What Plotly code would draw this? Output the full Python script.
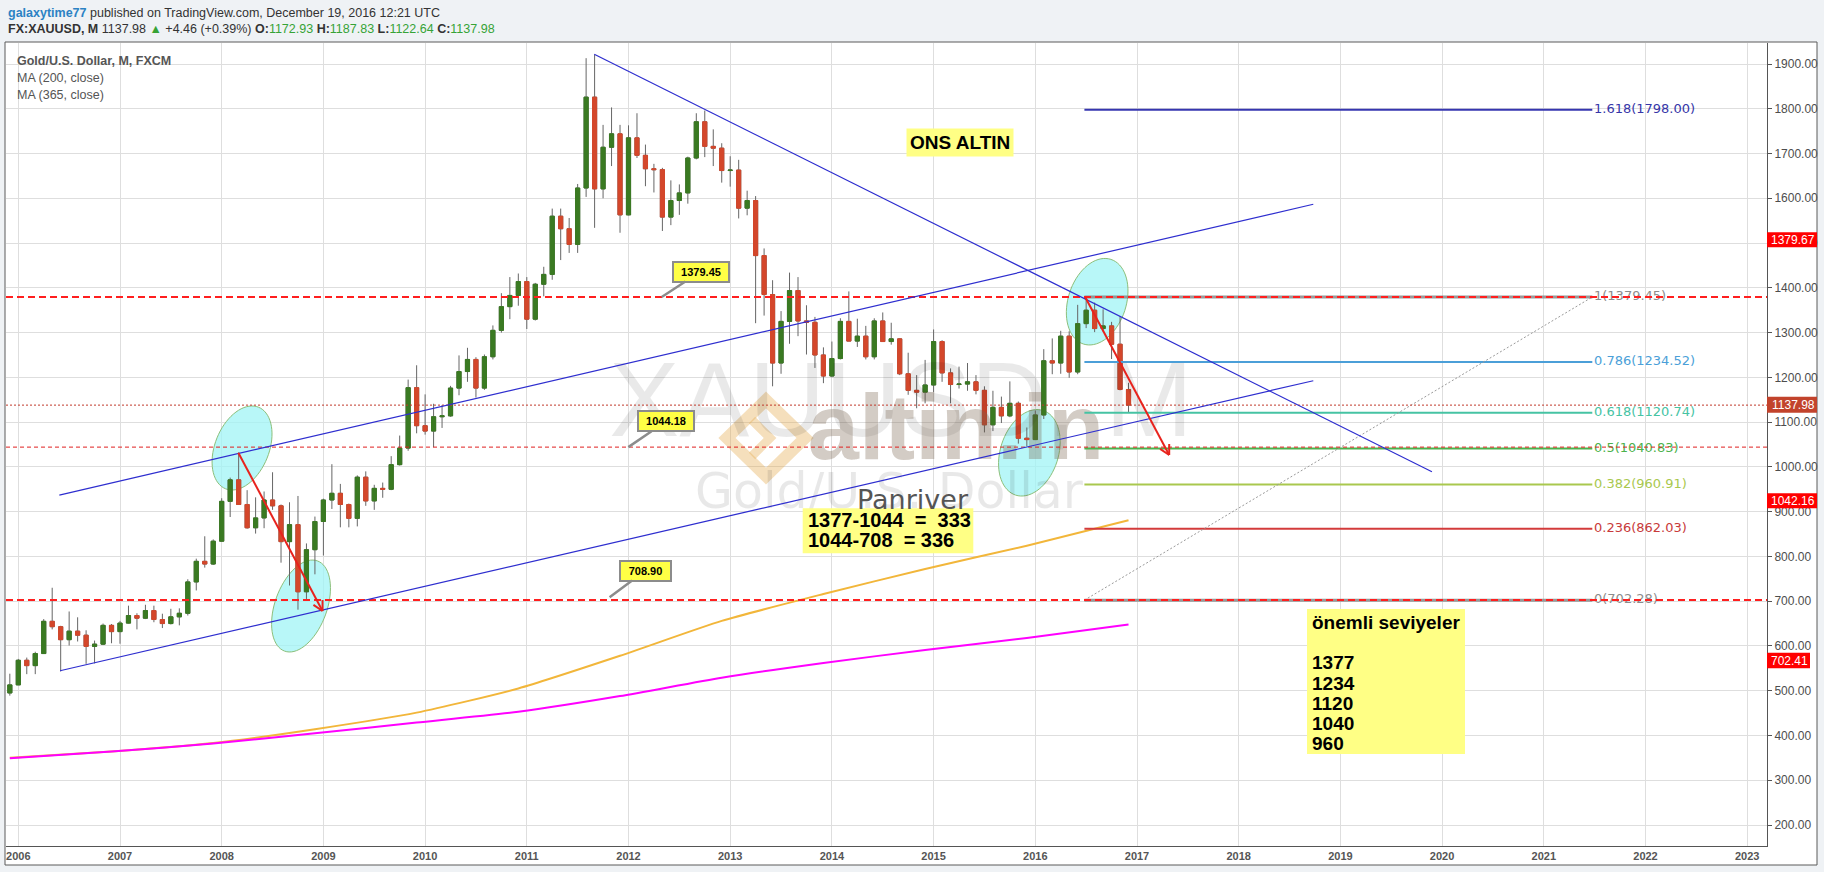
import numpy as np
import plotly.graph_objects as go

# ---------------- DATA ----------------
months = ["2005-12"] + [f"{y}-{m:02d}" for y in range(2006, 2017) for m in range(1, 13)]

opens = [
    495,
    513, 568, 556, 583, 655, 643, 614, 633, 624, 599, 604, 646,
    632, 651, 668, 662, 679, 659, 650, 665, 673, 743, 789, 783,
    834, 923, 971, 916, 864, 886, 926, 913, 833, 871, 721, 815,
    878, 926, 941, 916, 885, 977, 924, 952, 950, 1005, 1042, 1177,
    1092, 1080, 1112, 1114, 1176, 1213, 1240, 1176, 1246, 1305, 1358, 1383,
    1414, 1330, 1408, 1430, 1560, 1532, 1497, 1623, 1826, 1621, 1714, 1744,
    1563, 1735, 1696, 1666, 1664, 1558, 1595, 1612, 1690, 1771, 1716, 1712,
    1662, 1663, 1578, 1595, 1472, 1385, 1232, 1325, 1394, 1326, 1323, 1250,
    1203, 1242, 1325, 1281, 1292, 1246, 1326, 1280, 1286, 1208, 1171, 1167,
    1183, 1280, 1210, 1184, 1185, 1190, 1171, 1094, 1133, 1114, 1142, 1064,
    1061, 1116, 1237, 1232, 1292, 1212, 1320, 1350, 1309, 1315, 1274, 1172.93,
]
highs = [
    538,
    571, 574, 587, 660, 730, 645, 677, 664, 635, 612, 650, 649,
    656, 690, 673, 692, 690, 672, 683, 684, 749, 795, 845, 838,
    930, 976, 1032, 948, 932, 945, 988, 916, 921, 935, 829, 889,
    929, 1006, 962, 918, 981, 990, 960, 965, 1024, 1070, 1195, 1227,
    1162, 1141, 1138, 1181, 1249, 1266, 1245, 1251, 1316, 1388, 1424, 1432,
    1424, 1411, 1447, 1577, 1577, 1556, 1632, 1913, 1921, 1764, 1803, 1764,
    1763, 1790, 1720, 1677, 1668, 1640, 1631, 1693, 1790, 1796, 1754, 1723,
    1694, 1686, 1617, 1605, 1488, 1417, 1348, 1434, 1424, 1361, 1335, 1267,
    1280, 1332, 1392, 1331, 1315, 1332, 1345, 1322, 1287, 1255, 1205, 1239,
    1307, 1283, 1220, 1224, 1232, 1205, 1180, 1170, 1157, 1191, 1146, 1088,
    1126, 1263, 1287, 1304, 1303, 1362, 1375, 1367, 1352, 1324, 1337, 1187.83,
]
lows = [
    489,
    513, 537, 537, 582, 637, 543, 601, 610, 560, 561, 602, 606,
    605, 650, 637, 660, 653, 640, 648, 646, 668, 724, 775, 781,
    833, 888, 915, 862, 851, 863, 904, 786, 735, 681, 705, 760,
    802, 906, 865, 865, 867, 913, 904, 931, 948, 1003, 1036, 1075,
    1072, 1044, 1087, 1112, 1160, 1190, 1155, 1172, 1240, 1300, 1330, 1360,
    1308, 1327, 1381, 1418, 1462, 1478, 1478, 1603, 1534, 1600, 1672, 1523,
    1562, 1690, 1627, 1613, 1527, 1540, 1563, 1588, 1687, 1692, 1672, 1635,
    1626, 1555, 1562, 1321, 1338, 1180, 1208, 1275, 1292, 1251, 1221, 1187,
    1200, 1240, 1283, 1268, 1240, 1240, 1282, 1273, 1205, 1161, 1131, 1142,
    1167, 1190, 1142, 1175, 1170, 1162, 1077, 1080, 1098, 1111, 1052, 1046,
    1061, 1107, 1207, 1208, 1199, 1207, 1310, 1301, 1302, 1241, 1171, 1122.64,
]
closes = [
    513,
    568, 556, 583, 655, 643, 614, 633, 624, 599, 604, 646, 632,
    651, 668, 662, 679, 659, 650, 665, 673, 743, 789, 783, 834,
    923, 971, 916, 864, 886, 926, 913, 833, 871, 721, 815, 878,
    926, 941, 916, 885, 977, 924, 952, 950, 1005, 1042, 1177, 1092,
    1080, 1112, 1114, 1176, 1213, 1240, 1176, 1246, 1305, 1358, 1383, 1414,
    1330, 1408, 1430, 1560, 1532, 1497, 1623, 1826, 1621, 1714, 1744, 1563,
    1735, 1696, 1666, 1664, 1558, 1595, 1612, 1690, 1771, 1716, 1712, 1662,
    1663, 1578, 1595, 1472, 1385, 1232, 1325, 1394, 1326, 1323, 1250, 1203,
    1242, 1325, 1281, 1292, 1246, 1326, 1280, 1286, 1208, 1171, 1167, 1183,
    1280, 1210, 1184, 1185, 1190, 1171, 1094, 1133, 1114, 1142, 1064, 1061,
    1116, 1237, 1232, 1292, 1212, 1320, 1350, 1309, 1315, 1274, 1173, 1137.98,
]

ma_months = ["2005-12", "2006-12", "2007-12", "2008-12", "2009-12", "2010-12",
             "2011-12", "2012-12", "2013-12", "2014-12", "2015-12", "2016-12"]
ma200 = [350, 364, 383, 414, 451, 505, 578, 656, 716, 772, 824, 881]
ma365 = [349, 364, 382, 405, 429, 453, 488, 529, 562, 591, 618, 648]

year_ticks = [str(y) for y in range(2006, 2024)]
price_ticks = [200, 300, 400, 500, 600, 700, 800, 900, 1000, 1100, 1200,
               1300, 1400, 1500, 1600, 1700, 1800, 1900]

fib_labels = ["1.618(1798.00)", "1(1379.45)", "0.786(1234.52)", "0.618(1120.74)",
              "0.5(1040.83)", "0.382(960.91)", "0.236(862.03)", "0(702.28)"]
fib_prices = [1798.00, 1379.45, 1234.52, 1120.74, 1040.83, 960.91, 862.03, 702.28]
fib_colors = ["#3636b0", "rgba(135,135,135,0.85)", "#4b9fd8", "#46c3a3",
              "#4cb24c", "#a9c84e", "#d33b3b", "rgba(135,135,135,0.85)"]
fib_text_colors = ["#3636a8", "#8c8c8c", "#4b9fd8", "#46c3a3",
                   "#4cb24c", "#a9c84e", "#c83a3a", "#8c8c8c"]

hline_prices = [1379.45, 1137.98, 1044.18, 702.41]
callout_prices = [1379.45, 1044.18, 708.90]
axis_label_texts = ["1379.67", "1137.98", "1042.16", "702.41"]
ratio_lines = ["1377-1044\u00a0\u00a0=\u00a0\u00a0333", "1044-708\u00a0\u00a0=\u00a0336"]
level_lines = ["önemli seviyeler", "1377", "1234", "1120", "1040", "960"]

# ---------------- GEOMETRY HELPERS ----------------
W, H = 1824, 872
PL, PR, PT, PB = 6, 1767, 43, 846
X0, XS = 18.3, 8.475
Y0, YS = 64.0, 0.44765
FONT = "Liberation Sans, Arial, sans-serif"


def midx(s):
    y, m = s.split("-")
    return (int(y) - 2006) * 12 + int(m) - 1


def px2x(px):
    return (px - X0) / XS


def py2y(py):
    return 1900 - (py - Y0) / YS


def x2px(x):
    return X0 + x * XS


def y2py(y):
    return Y0 + (1900 - y) * YS


def pap_x(px):
    return (px - PL) / (PR - PL)


def pap_y(py):
    return (PB - py) / (PB - PT)


x_range = [px2x(PL), px2x(PR)]
y_range = [py2y(PB), py2y(PT)]

xs = [midx(s) for s in months]
body_hi = [max(o, c) for o, c in zip(opens, closes)]
body_lo = [min(o, c) for o, c in zip(opens, closes)]

GREEN = "#3a7a22"
RED = "#d4472b"
WICK = "#666666"

fig = go.Figure()

# watermarks (drawn first, under everything)
fig.add_trace(go.Scatter(x=[px2x(901)], y=[py2y(410)], mode="text", text=["XAUUSD, M"],
                         textposition="middle center", hoverinfo="skip",
                         textfont=dict(size=105, color="rgba(0,0,0,0.085)", family=FONT)))
fig.add_trace(go.Scatter(x=[px2x(889)], y=[py2y(496)], mode="text", text=["Gold/U.S. Dollar"],
                         textposition="middle center", hoverinfo="skip",
                         textfont=dict(size=49, color="rgba(0,0,0,0.09)", family="DejaVu Sans")))
fig.add_trace(go.Scatter(x=[px2x(956)], y=[py2y(436)], mode="text", text=["<b>altin.in</b>"],
                         textposition="middle center", hoverinfo="skip",
                         textfont=dict(size=92, color="rgba(120,100,80,0.33)", family=FONT)))

# candles: wicks then bodies
fig.add_trace(go.Candlestick(
    x=xs, open=opens, high=highs, low=lows, close=closes,
    increasing=dict(line=dict(color=WICK, width=1), fillcolor=WICK),
    decreasing=dict(line=dict(color=WICK, width=1), fillcolor=WICK),
    whiskerwidth=0, hoverinfo="skip", showlegend=False))
fig.add_trace(go.Candlestick(
    x=xs, open=opens, high=body_hi, low=body_lo, close=closes,
    increasing=dict(line=dict(color=GREEN, width=1), fillcolor=GREEN),
    decreasing=dict(line=dict(color=RED, width=1), fillcolor=RED),
    whiskerwidth=0, hoverinfo="skip", showlegend=False))

# moving averages
ma_x = [midx(s) for s in ma_months]
fig.add_trace(go.Scatter(x=ma_x, y=ma200, mode="lines", hoverinfo="skip",
                         line=dict(color="#f2b63a", width=2, shape="spline", smoothing=0.6)))
fig.add_trace(go.Scatter(x=ma_x, y=ma365, mode="lines", hoverinfo="skip",
                         line=dict(color="#ff00ff", width=2, shape="spline", smoothing=0.6)))

# fib labels (as text trace so lines can overlay)
fig.add_trace(go.Scatter(x=[px2x(1594)] * len(fib_labels), y=fib_prices, mode="text",
                         text=fib_labels, textposition="middle right", hoverinfo="skip",
                         textfont=dict(size=13, color=fib_text_colors, family="DejaVu Sans")))

shapes = []
# chart frame
shapes.append(dict(type="rect", xref="paper", yref="paper", x0=pap_x(5), x1=pap_x(1817),
                   y0=pap_y(865), y1=pap_y(42), fillcolor="white",
                   line=dict(color="#5a5a5a", width=1), layer="below"))


def ellipse_path(cm, cv, a, b, phi):
    cx, cy = x2px(cm), y2py(cv)
    t = np.linspace(0, 2 * np.pi, 73)
    ph = np.radians(phi)
    ux, uy = np.cos(ph), np.sin(ph)
    vx, vy = np.sin(ph), -np.cos(ph)
    ex = cx + a * np.cos(t) * ux + b * np.sin(t) * vx
    ey = cy + a * np.cos(t) * uy + b * np.sin(t) * vy
    pts = [f"{px2x(x):.4f},{py2y(y):.3f}" for x, y in zip(ex, ey)]
    return "M " + " L ".join(pts) + " Z"


ellipses = [
    dict(cm=26.4, cv=1042.2, a=27, b=44, phi=22),
    dict(cm=33.36, cv=689.2, a=26, b=48, phi=20),
    dict(cm=127.3, cv=1369.0, a=29, b=44.5, phi=18),
    dict(cm=119.3, cv=1031.5, a=29, b=44.5, phi=18),
]
for e in ellipses:
    shapes.append(dict(type="path", path=ellipse_path(**e), xref="x", yref="y",
                       fillcolor="rgba(160,244,246,0.75)",
                       line=dict(color="#8cbf7a", width=1), layer="between"))


def px_path(points, close=True):
    s = "M " + " L ".join(f"{px2x(x):.4f},{py2y(y):.3f}" for x, y in points)
    return s + (" Z" if close else "")


# logo icon (watermark)
shapes.append(dict(type="path", xref="x", yref="y", layer="between",
                   path=px_path([(766, 400), (805, 438), (766, 476), (727, 438)]),
                   line=dict(color="rgba(230,170,80,0.38)", width=12)))
shapes.append(dict(type="path", xref="x", yref="y", layer="between",
                   path=px_path([(752, 420), (770, 438), (752, 456)], close=False),
                   line=dict(color="rgba(230,170,80,0.38)", width=9)))

# fibonacci lines
fib_x0, fib_x1 = px2x(1084.4), px2x(1592.3)
for p, c in zip(fib_prices, fib_colors):
    w = 3 if c.startswith("rgba") else 2
    shapes.append(dict(type="line", xref="x", yref="y", x0=fib_x0, x1=fib_x1, y0=p, y1=p,
                       line=dict(color=c, width=w), layer="above"))
shapes.append(dict(type="line", xref="x", yref="y", x0=fib_x0, y0=fib_prices[-1],
                   x1=fib_x1, y1=fib_prices[1], line=dict(color="#9a9a9a", width=1, dash="2px,2px"),
                   layer="above"))

# horizontal price lines across the chart
hstyles = [("#ff1f1f", 2, "7px,4px"), ("#c0392b", 1, "2px,2px"),
           ("#e02020", 1, "4px,3px"), ("#ff1f1f", 2, "7px,4px")]
for p, (c, w, d) in zip(hline_prices, hstyles):
    shapes.append(dict(type="line", xref="paper", yref="y", x0=0, x1=1, y0=p, y1=p,
                       line=dict(color=c, width=w, dash=d), layer="above"))

# trend lines
trend_lines = [
    ((4.84, 937.0), (152.8, 1586.6)),
    ((4.92, 544.6), (152.8, 1192.5)),
    ((67.96, 1921.6), (166.8, 989.0)),
]
for (a0, b0), (a1, b1) in trend_lines:
    shapes.append(dict(type="line", xref="x", yref="y", x0=a0, y0=b0, x1=a1, y1=b1,
                       line=dict(color="#2e2ecf", width=1.2), layer="above"))

# red arrows
arrows = [((25.96, 1031.6), (35.9, 678.0)), ((125.9, 1378.8), (135.8, 1026.5))]
for (a0, b0), (a1, b1) in arrows:
    shapes.append(dict(type="line", xref="x", yref="y", x0=a0, y0=b0, x1=a1, y1=b1,
                       line=dict(color="#e8231d", width=2), layer="above"))
    p0 = np.array([x2px(a0), y2py(b0)])
    p1 = np.array([x2px(a1), y2py(b1)])
    d = (p1 - p0) / np.linalg.norm(p1 - p0)
    for sgn in (1, -1):
        ang = np.radians(28 * sgn)
        bx, by = -d
        r = np.array([bx * np.cos(ang) - by * np.sin(ang), bx * np.sin(ang) + by * np.cos(ang)])
        q = p1 + 11 * r
        shapes.append(dict(type="line", xref="x", yref="y", x0=a1, y0=b1,
                           x1=px2x(q[0]), y1=py2y(q[1]),
                           line=dict(color="#e8231d", width=2), layer="above"))

YELLOW = "#ffff85"
shapes.append(dict(type="rect", xref="x", yref="y", x0=px2x(802.7), x1=px2x(973.3),
                   y0=py2y(553.3), y1=py2y(508.3), fillcolor=YELLOW, line=dict(width=0),
                   layer="above"))
shapes.append(dict(type="rect", xref="x", yref="y", x0=px2x(1307), x1=px2x(1465),
                   y0=py2y(754), y1=py2y(609), fillcolor=YELLOW, line=dict(width=0),
                   layer="above"))

# right axis price labels
axis_boxes = [(232.3, 247.3, 1817, "#ff0000"), (396.7, 412.7, 1817, "#c2432c"),
              (493.3, 508.3, 1817, "#ff0000"), (652.7, 668.3, 1810, "#ff0000")]
annotations = []
for txt, (t0, t1, xr, col) in zip(axis_label_texts, axis_boxes):
    shapes.append(dict(type="rect", xref="paper", yref="paper", x0=pap_x(1767), x1=pap_x(xr),
                       y0=pap_y(t1), y1=pap_y(t0), fillcolor=col, line=dict(width=0),
                       layer="above"))
    annotations.append(dict(xref="paper", yref="paper", x=pap_x((1767 + xr) / 2 + 1),
                            y=pap_y((t0 + t1) / 2), text=txt, showarrow=False,
                            xanchor="center", yanchor="middle",
                            font=dict(size=12, color="white", family=FONT)))

# header
GRN = "#36a336"
annotations.append(dict(xref="paper", yref="paper", x=pap_x(6), y=pap_y(12.5),
                        xanchor="left", yanchor="middle", showarrow=False,
                        text='<span style="color:#2b82c4"><b>galaxytime77</b></span> published on TradingView.com, December 19, 2016 12:21 UTC',
                        font=dict(size=12.5, color="#333333", family=FONT)))
annotations.append(dict(xref="paper", yref="paper", x=pap_x(6), y=pap_y(29.5),
                        xanchor="left", yanchor="middle", showarrow=False,
                        text=(f'<b>FX:XAUUSD, M</b> {closes[-1]:.2f} <span style="color:{GRN}">▲</span> +4.46 (+0.39%) '
                              f'<b>O:</b><span style="color:{GRN}">{opens[-1]:.2f}</span> '
                              f'<b>H:</b><span style="color:{GRN}">{highs[-1]:.2f}</span> '
                              f'<b>L:</b><span style="color:{GRN}">{lows[-1]:.2f}</span> '
                              f'<b>C:</b><span style="color:{GRN}">{closes[-1]:.2f}</span>'),
                        font=dict(size=12.5, color="#333333", family=FONT)))
for txt, yy, bold in [("Gold/U.S. Dollar, M, FXCM", 61, True), ("MA (200, close)", 78.5, False),
                      ("MA (365, close)", 95, False)]:
    annotations.append(dict(xref="paper", yref="paper", x=pap_x(15), y=pap_y(yy),
                            xanchor="left", yanchor="middle", showarrow=False,
                            text=f"<b>{txt}</b>" if bold else txt,
                            font=dict(size=12.5, color="#555555", family=FONT)))

# callouts
callouts = [(px2x(661.7), 39, -25.5, 50), (px2x(628.3), 38, -25.8, 50),
            (px2x(609.6), 36, -26.7, 45)]
for val, (cx, ax, ay, bw) in zip(callout_prices, callouts):
    annotations.append(dict(x=cx, y=val, xref="x", yref="y", text=f"<b>{val:.2f}</b>",
                            showarrow=True, arrowhead=0, arrowwidth=2.5, arrowcolor="#8c8c8c",
                            ax=ax, ay=ay, bgcolor="#ffff45", bordercolor="#8c8c8c",
                            borderwidth=2, borderpad=2, width=bw, height=14,
                            font=dict(size=11, color="black", family=FONT)))

annotations.append(dict(x=px2x(960), y=py2y(142.7), xref="x", yref="y", showarrow=False,
                        text="<b>ONS ALTIN</b>", bgcolor=YELLOW, borderpad=3,
                        font=dict(size=19, color="black", family=FONT)))
annotations.append(dict(x=px2x(912.5), y=py2y(499), xref="x", yref="y", showarrow=False,
                        text="Panriver", font=dict(size=27, color="#555555", family="DejaVu Sans")))
for txt, yy in zip(ratio_lines, [520, 539.7]):
    annotations.append(dict(x=px2x(806), y=py2y(yy), xref="x", yref="y", showarrow=False,
                            xanchor="left", yanchor="middle", text=f"<b>{txt}</b>",
                            font=dict(size=20, color="black", family=FONT)))
for txt, yy in zip(level_lines, [622, 662, 683, 703.5, 723.5, 743.5]):
    annotations.append(dict(x=px2x(1310), y=py2y(yy), xref="x", yref="y", showarrow=False,
                            xanchor="left", yanchor="middle", text=f"<b>{txt}</b>",
                            font=dict(size=19, color="black", family=FONT)))

fig.update_layout(
    width=W, height=H, autosize=False,
    margin=dict(l=PL, r=W - PR, t=PT, b=H - PB, pad=0, autoexpand=False),
    paper_bgcolor="#eff2f5", plot_bgcolor="#ffffff",
    showlegend=False, dragmode=False,
    font=dict(family=FONT),
    shapes=shapes, annotations=annotations,
    xaxis=dict(range=x_range, autorange=False, tickmode="array",
               tickvals=[midx(f"{y}-01") for y in year_ticks], ticktext=year_ticks,
               showgrid=True, gridcolor="#dedede", gridwidth=1, zeroline=False,
               showline=True, linecolor="#555555", linewidth=1, ticks="",
               tickfont=dict(family="Liberation Sans Narrow, Arial Narrow, Liberation Sans",
                             size=11, color="#555555", weight="bold"),
               rangeslider=dict(visible=False), fixedrange=True, automargin=False),
    yaxis=dict(range=y_range, autorange=False, side="right", tickmode="array",
               tickvals=price_ticks, tickformat=".2f", showgrid=True, gridcolor="#dedede",
               gridwidth=1, zeroline=False, showline=True, linecolor="#555555", linewidth=1,
               ticks="outside", ticklen=4, tickcolor="#555555",
               tickfont=dict(family=FONT, size=12, color="#4d4d4d"), fixedrange=True,
               automargin=False),
)

fig.write_html(
    "out.html",
    config={"displayModeBar": False, "responsive": False},
    post_script=("document.documentElement.style.margin='0';"
                 "document.body.style.margin='0';"
                 "document.body.style.overflow='hidden';"
                 "document.documentElement.style.overflow='hidden';"),
)
